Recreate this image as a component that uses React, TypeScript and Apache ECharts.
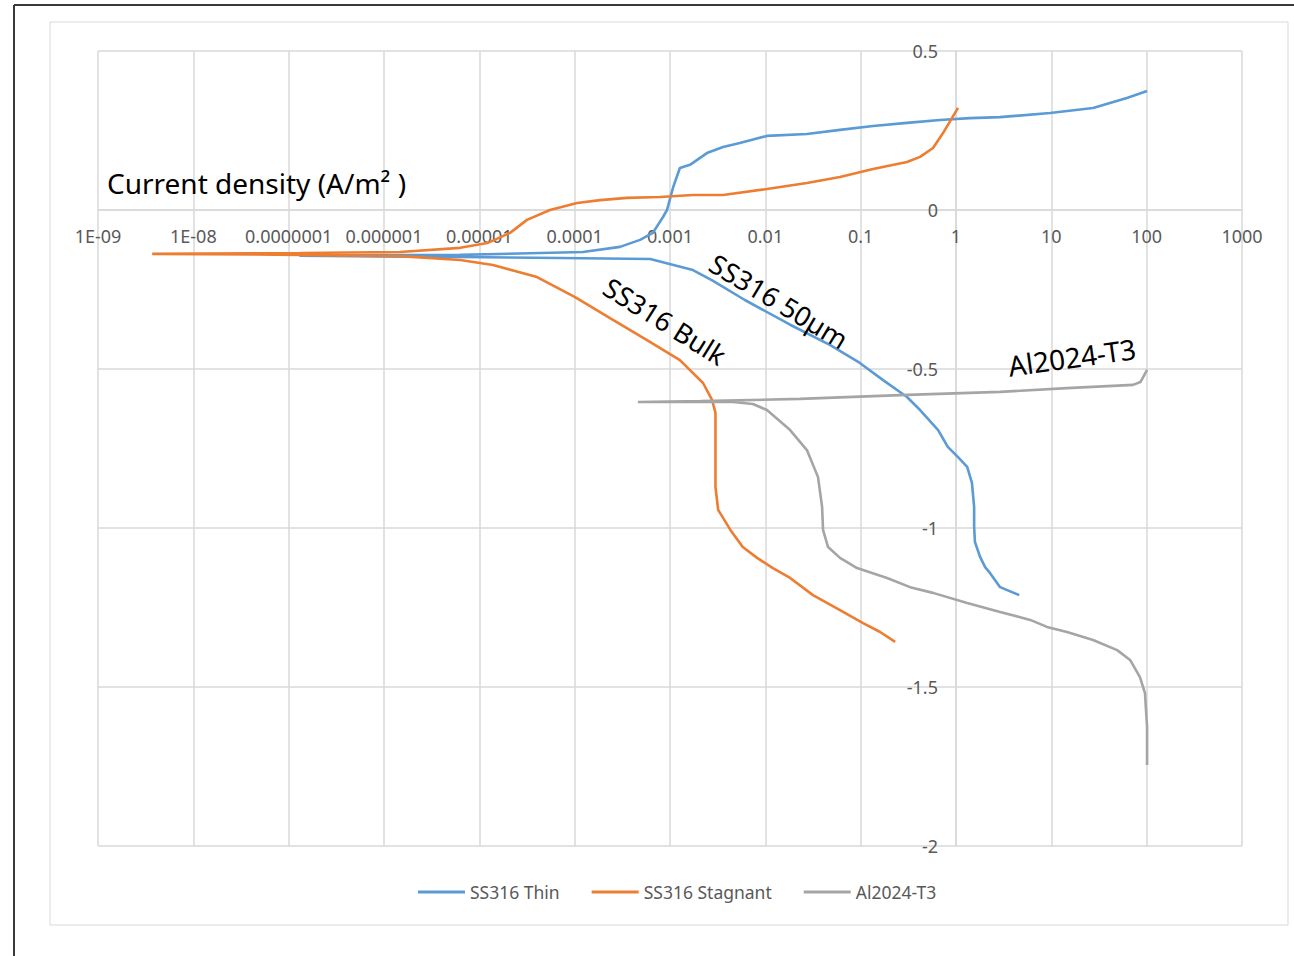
import { useEffect, useRef } from "react";
import * as echarts from "echarts";

// Current-density axis spans 1E-09 … 1000 A/m² (one tick per decade).
const X_MIN_EXP = -9;
const X_MAX_EXP = 3;
const X_TICK_LABELS = [
  "1E-09", "1E-08", "0.0000001", "0.000001", "0.00001", "0.0001",
  "0.001", "0.01", "0.1", "1", "10", "100", "1000",
];

// Potential axis (V)
const Y_MIN = -2;
const Y_MAX = 0.5;
const Y_STEP = 0.5;

const SERIES_NAMES = ["SS316 Thin", "SS316 Stagnant", "Al2024-T3"];
const SERIES_COLORS = ["#5B9BD5", "#ED7D31", "#A5A5A5"];

// [current density (A/m²), potential (V)], cathodic branch first, then anodic
const ss316Thin: [number, number][] = [
  [4.6, -1.211], [2.9, -1.186], [2.28, -1.142], [2.02, -1.123], [1.79, -1.091],
  [1.58, -1.044], [1.55, -0.997], [1.55, -0.934], [1.47, -0.858], [1.31, -0.808],
  [1.05, -0.777], [0.82, -0.745], [0.65, -0.692], [0.42, -0.629], [0.306, -0.588],
  [0.172, -0.535], [0.098, -0.481], [0.048, -0.425], [0.018, -0.36], [0.0061, -0.283],
  [0.0028, -0.222], [0.00174, -0.189], [0.00062, -0.154], [0.00007, -0.151],
  [0.0000063, -0.148], [0.00000091, -0.146], [0.00000013, -0.144],
  [0.00000091, -0.142], [0.0000063, -0.141], [0.000122, -0.132], [0.000299, -0.116],
  [0.000485, -0.094], [0.00066, -0.072], [0.000845, -0.022], [0.00093, 0.0],
  [0.00108, 0.072], [0.00127, 0.132], [0.00162, 0.142], [0.00244, 0.179],
  [0.0036, 0.198], [0.0054, 0.211], [0.0104, 0.233], [0.0273, 0.239],
  [0.0607, 0.252], [0.135, 0.264], [0.306, 0.274], [0.68, 0.283], [1.4, 0.289],
  [2.9, 0.292], [9.7, 0.305], [27.4, 0.321], [62, 0.352], [101, 0.374],
];

const ss316Stagnant: [number, number][] = [
  [0.23, -1.358], [0.16, -1.327], [0.106, -1.299], [0.0607, -1.258], [0.0316, -1.211],
  [0.0182, -1.157], [0.012, -1.126], [0.0082, -1.094], [0.0058, -1.06], [0.0043, -1.006],
  [0.0032, -0.943], [0.003, -0.871], [0.003, -0.723], [0.003, -0.638], [0.00276, -0.597],
  [0.00222, -0.544], [0.00127, -0.472], [0.000574, -0.409], [0.000235, -0.34],
  [0.000101, -0.274], [0.0000403, -0.211], [0.0000139, -0.173], [0.0000063, -0.157],
  [0.00000147, -0.145], [0.000000131, -0.141], [0.0000000037, -0.138],
  [0.000000131, -0.135], [0.00000147, -0.132], [0.0000063, -0.119],
  [0.0000121, -0.104], [0.000021, -0.072], [0.0000316, -0.031], [0.000055, 0.0],
  [0.000106, 0.022], [0.000185, 0.031], [0.000354, 0.038], [0.000785, 0.041],
  [0.00174, 0.047], [0.0036, 0.047], [0.0104, 0.066], [0.0273, 0.085],
  [0.0607, 0.104], [0.135, 0.129], [0.306, 0.151], [0.42, 0.167], [0.574, 0.195],
  [0.731, 0.242], [1.05, 0.321],
];

const al2024T3: [number, number][] = [
  [101, -1.745], [101, -1.626], [96, -1.519], [85, -1.469], [67, -1.415],
  [49, -1.384], [27.4, -1.352], [14.6, -1.327], [9.0, -1.311], [6.0, -1.289],
  [2.9, -1.264], [1.31, -1.236], [0.574, -1.204], [0.33, -1.186], [0.189, -1.157],
  [0.0916, -1.126], [0.0607, -1.094], [0.0455, -1.06], [0.0403, -1.006],
  [0.0394, -0.934], [0.0357, -0.84], [0.0273, -0.755], [0.0182, -0.692],
  [0.0104, -0.629], [0.0074, -0.61], [0.0046, -0.604], [0.0021, -0.604],
  [0.00046, -0.604], [0.0021, -0.601], [0.0231, -0.594], [0.259, -0.582],
  [2.9, -0.572], [14.6, -0.56], [72, -0.55], [86, -0.541], [101, -0.503],
];

const SERIES_DATA = [ss316Thin, ss316Stagnant, al2024T3];

const GRID = { left: 98, top: 51, width: 1144, height: 795 };
const FONT = '"Noto Sans", "Liberation Sans", sans-serif';
const AXIS_TEXT = "#595959";
const GRID_LINE = "#d9d9d9";

// The axes cross at 1 A/m² and 0 V
const yAxisOffset = -GRID.width * (0 - X_MIN_EXP) / (X_MAX_EXP - X_MIN_EXP);
const xAxisOffset = -GRID.height * (0 - Y_MIN) / (Y_MAX - Y_MIN);

const deg = (d: number) => (d * Math.PI) / 180;

const note = (text: string, x: number, y: number, rot: number, size = 27) => ({
  type: "text",
  x,
  y,
  rotation: deg(rot),
  z: 100,
  silent: true,
  style: {
    text,
    fontSize: size,
    fontFamily: FONT,
    fill: "#000",
    align: "center",
    verticalAlign: "middle",
  },
});

export default function App() {
  const ref = useRef<HTMLDivElement>(null);

  useEffect(() => {
    document.body.style.margin = "0";
    const chart = echarts.init(ref.current!, null, { renderer: "svg" });

    const option: any = {
      animation: false,
      backgroundColor: "#ffffff",
      textStyle: { fontFamily: FONT },
      grid: { ...GRID, outerBoundsMode: "none", containLabel: false },
      legend: {
        data: SERIES_NAMES,
        left: 413,
        top: 878,
        icon: "rect",
        itemWidth: 47,
        itemHeight: 3,
        itemGap: 32,
        textStyle: { color: AXIS_TEXT, fontSize: 17.5, fontFamily: FONT },
      },
      xAxis: {
        type: "value",
        min: X_MIN_EXP,
        max: X_MAX_EXP,
        interval: 1,
        position: "bottom",
        offset: xAxisOffset,
        axisLine: { show: true, onZero: false, lineStyle: { color: GRID_LINE, width: 1.5 } },
        axisTick: { show: false },
        splitLine: { show: true, lineStyle: { color: GRID_LINE, width: 1.5 } },
        axisLabel: {
          color: AXIS_TEXT,
          fontSize: 18,
          margin: 17,
          fontFamily: FONT,
          formatter: (v: number) => X_TICK_LABELS[Math.round(v - X_MIN_EXP)] ?? "",
        },
      },
      yAxis: {
        type: "value",
        min: Y_MIN,
        max: Y_MAX,
        interval: Y_STEP,
        position: "left",
        offset: yAxisOffset,
        axisLine: { show: true, onZero: false, lineStyle: { color: GRID_LINE, width: 1.5 } },
        axisTick: { show: false },
        splitLine: { show: true, lineStyle: { color: GRID_LINE, width: 1.5 } },
        axisLabel: { color: AXIS_TEXT, fontSize: 18, margin: 18, fontFamily: FONT },
      },
      series: SERIES_DATA.map((pts, i) => ({
        name: SERIES_NAMES[i],
        type: "line",
        data: pts.map(([cur, pot]) => [Math.log10(cur), pot]),
        showSymbol: false,
        symbol: "none",
        color: SERIES_COLORS[i],
        lineStyle: { color: SERIES_COLORS[i], width: 2.6 },
        emphasis: { disabled: true },
      })),
      graphic: [
        // page frame
        {
          type: "line",
          shape: { x1: 14, y1: 5, x2: 1294, y2: 5 },
          style: { stroke: "#3a3a3a", lineWidth: 2 },
          silent: true,
        },
        {
          type: "line",
          shape: { x1: 14, y1: 5, x2: 14, y2: 956 },
          style: { stroke: "#3a3a3a", lineWidth: 2 },
          silent: true,
        },
        // chart area border
        {
          type: "rect",
          shape: { x: 50, y: 22, width: 1238, height: 903 },
          style: { fill: "none", stroke: "#d9d9d9", lineWidth: 1 },
          silent: true,
        },
        {
          type: "text",
          x: 107,
          y: 183,
          z: 100,
          silent: true,
          style: {
            text: "Current density (A/m² )",
            fontSize: 28,
            fontFamily: FONT,
            fill: "#000",
            align: "left",
            verticalAlign: "middle",
          },
        },
        note("SS316 50µm", 779, 301, -31),
        note("SS316 Bulk", 665, 321, -32),
        note("Al2024-T3", 1072, 357, 8, 28),
      ],
    };

    chart.setOption(option);
    return () => chart.dispose();
  }, []);

  return <div ref={ref} style={{ width: 1294, height: 956, background: "#fff" }} />;
}
